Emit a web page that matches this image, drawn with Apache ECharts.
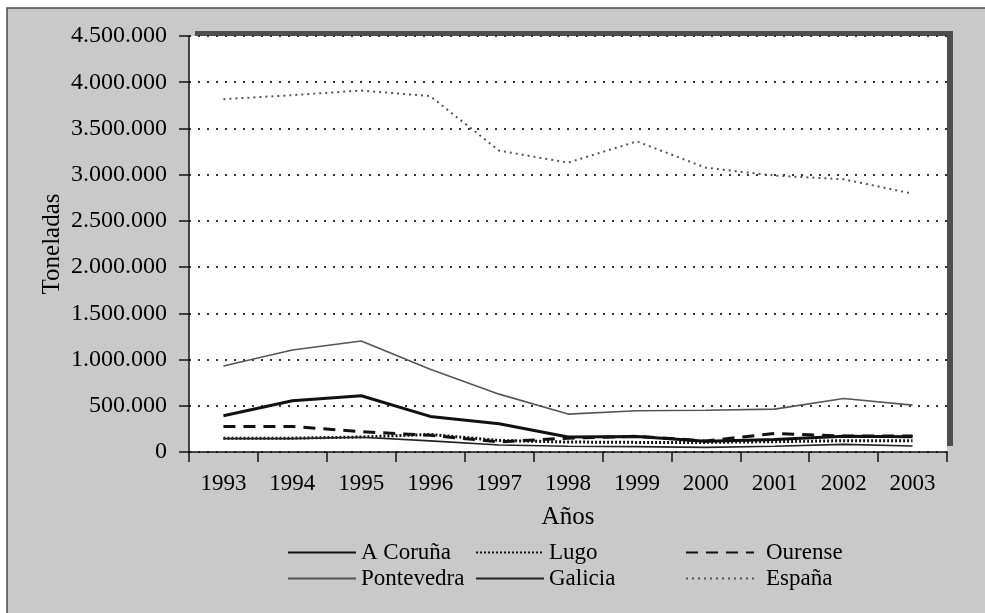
<!DOCTYPE html>
<html>
<head>
<meta charset="utf-8">
<script src="https://cdn.jsdelivr.net/npm/echarts@6/dist/echarts.min.js"></script>
<style>
html,body{margin:0;padding:0;background:#ffffff;}
#main{width:985px;height:613px;}
</style>
</head>
<body>
<div id="main"></div>
<script>
var years = ['1993','1994','1995','1996','1997','1998','1999','2000','2001','2002','2003'];
var aCoruna    = [392000, 554000, 608000, 385000, 305000, 162000, 168000, 115000, 135000, 170000, 165000];
var lugo       = [150000, 150000, 162000, 190000, 125000, 108000, 104000, 104000, 112000, 122000, 122000];
var ourense    = [277000, 277000, 220000, 180000, 110000, 150000, 170000, 120000, 200000, 172000, 172000];
var pontevedra = [930000, 1104000, 1200000, 896000, 626000, 410000, 446000, 452000, 464000, 579000, 507000];
var galicia    = [145000, 145000, 160000, 120000, 75000, 62000, 58000, 50000, 62000, 82000, 65000];
var espana     = [3817000, 3860000, 3910000, 3850000, 3260000, 3130000, 3360000, 3075000, 2990000, 2950000, 2795000];

var W = 985, H = 613;
var G = {left:189, top:36, right:38, bottom:161};
var FONT = '"Liberation Serif","Times New Roman",serif';

function fmt(v){
  return String(v).replace(/\B(?=(\d{3})+(?!\d))/g, '.');
}

var chart = echarts.init(document.getElementById('main'), null, {renderer:'canvas'});

function mk(name, data, color, width, type){
  return {
    name:name, type:'line', data:data, symbol:'none', showSymbol:false,
    legendIcon:'none',
    lineStyle:{color:color, width:width, type:type},
    itemStyle:{color:color},
    emphasis:{disabled:true}, animation:false
  };
}

var legendText = {fontFamily:FONT, fontSize:23, color:'#000'};
function leg(left, names, gap){
  return {
    orient:'vertical', left:left, top:541, padding:0, itemWidth:68, itemHeight:14, itemGap:3,
    textStyle:Object.assign({padding:[0,0,0,gap]}, legendText), data:names, selectedMode:false,
    itemStyle:{opacity:0, borderWidth:0}
  };
}

var gx = G.left, gy = G.top, gw = W - G.left - G.right, gh = H - G.top - G.bottom;

chart.setOption({
  backgroundColor:'#ffffff',
  animation:false,
  graphic:[
    {type:'rect', z:-10, shape:{x:7, y:8, width:W, height:H}, style:{fill:'#c9c9c9', stroke:'#4a4a4a', lineWidth:1.5}},
    {type:'rect', z:-9, shape:{x:gx+6, y:gy-5, width:gw, height:gh-1}, style:{fill:'#4e4e4e'}},
    {type:'rect', z:-8, shape:{x:gx, y:gy, width:gw, height:gh}, style:{fill:'#ffffff'}}
  ],
  grid:{left:G.left, top:G.top, right:G.right, bottom:G.bottom, containLabel:false},
  legend:[
    leg(287, ['A Coruña','Pontevedra'], 0),
    leg(475, ['Lugo','Galicia'], 0),
    leg(685, ['Ourense','España'], 7)
  ],
  xAxis:{
    type:'category', data:years, boundaryGap:true,
    name:'Años', nameLocation:'middle', nameGap:53,
    nameTextStyle:{fontFamily:FONT, fontSize:25, color:'#000'},
    axisLine:{lineStyle:{color:'#111', width:1.5}},
    axisTick:{show:true, length:10, inside:false, alignWithLabel:false, lineStyle:{color:'#111', width:1.5}},
    axisLabel:{fontFamily:FONT, fontSize:23, color:'#000', margin:20},
    splitLine:{show:false}
  },
  yAxis:{
    type:'value', min:0, max:4500000, interval:500000,
    name:'Toneladas', nameLocation:'middle', nameGap:124, nameRotate:90, nameMoveOverlap:false,
    nameTextStyle:{fontFamily:FONT, fontSize:25, color:'#000'},
    axisLine:{show:true, lineStyle:{color:'#111', width:1.5}},
    axisTick:{show:true, length:10, inside:false, lineStyle:{color:'#111', width:1.5}},
    axisLabel:{fontFamily:FONT, fontSize:24, color:'#000', margin:22, formatter:fmt},
    splitLine:{show:true, lineStyle:{color:'#333', width:2, type:[2,7]}}
  },
  series:[
    mk('A Coruña', aCoruna, '#111111', 3, 'solid'),
    mk('Lugo', lugo, '#111111', 3, [2,2]),
    mk('Ourense', ourense, '#111111', 3, [12,8]),
    mk('Pontevedra', pontevedra, '#555555', 1.6, 'solid'),
    mk('Galicia', galicia, '#222222', 1.6, 'solid'),
    mk('España', espana, '#555555', 2, [2,4])
  ]
});
</script>
</body>
</html>
